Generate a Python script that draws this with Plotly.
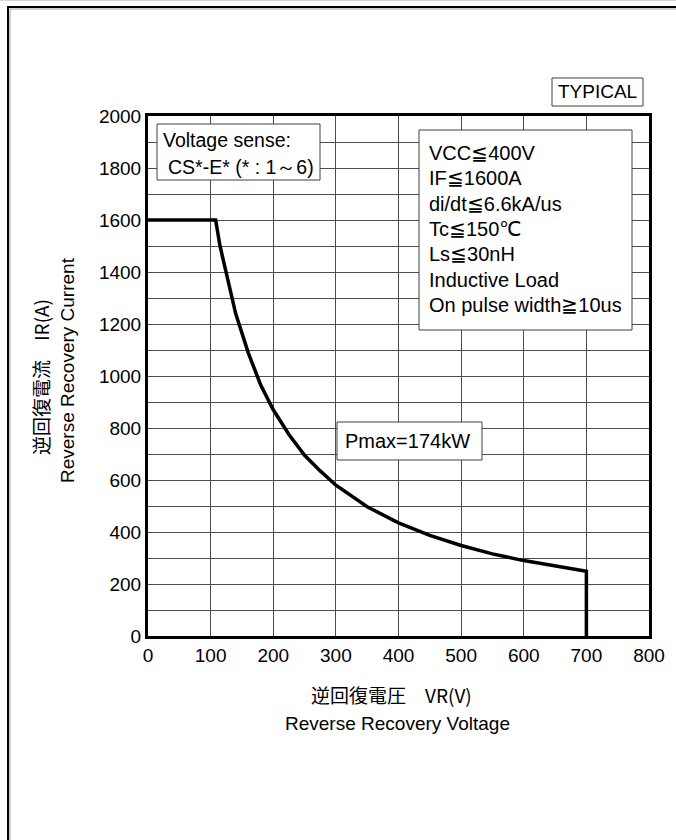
import plotly.graph_objects as go

# reverse recovery SOA curve
VR = [0, 108, 115, 125, 140, 160, 180, 200, 225, 250, 275, 300, 350,
      400, 450, 500, 550, 600, 650, 700, 700]
IR = [1600, 1600, 1500, 1390, 1240, 1090, 965, 870, 775, 695, 635, 580, 497,
      435, 387, 348, 316, 290, 268, 249, 0]

X_TICKS = list(range(0, 801, 100))
Y_GRID = list(range(0, 2001, 100))
Y_LABELS = [str(v) if v % 200 == 0 else "" for v in Y_GRID]

COND_LINES = ["VCC≦400V", "IF≦1600A", "di/dt≦6.6kA/us", "Tc≦150℃",
              "Ls≦30nH", "Inductive Load", "On pulse width≧10us"]

W, H = 676, 840
L, T = 148, 116
R, B = W - 649, H - 636
PW, PH = W - L - R, H - T - B

FONT = "Liberation Sans, Arial, sans-serif"
JFONT = "Noto Sans CJK JP, sans-serif"
GRID = "#4d4d4d"


# positions below are page pixels (as measured on the reference)
def xp(px):
    return (px - L) / PW


def yp(py):
    return (H - B - py) / PH


fig = go.Figure()
fig.add_trace(go.Scatter(x=VR, y=IR, mode="lines",
                         line=dict(color="black", width=3.5),
                         showlegend=False, hoverinfo="skip"))

shapes = []
annots = []


def box(x0, y0, x1, y1, color="#404040"):
    shapes.append(dict(type="rect", xref="paper", yref="paper",
                       x0=xp(x0), x1=xp(x1), y0=yp(y1), y1=yp(y0),
                       line=dict(color=color, width=1), fillcolor="white",
                       layer="above"))


def text(s, x, y, size=20, anchor="left", font=FONT, angle=0):
    annots.append(dict(text=s, xref="paper", yref="paper", x=xp(x), y=yp(y),
                       xanchor=anchor, yanchor="middle", showarrow=False,
                       textangle=angle,
                       font=dict(family=font, size=size, color="black")))


# outer frame (runs off the right/bottom of the page)
shapes.append(dict(type="line", xref="paper", yref="paper",
                   x0=xp(0), x1=xp(W), y0=yp(0.5), y1=yp(0.5),
                   line=dict(color="#d4d4d4", width=1)))
shapes.append(dict(type="rect", xref="paper", yref="paper",
                   x0=xp(8), x1=xp(W + 40), y0=yp(H + 40), y1=yp(7),
                   line=dict(color="black", width=2)))
shapes.append(dict(type="rect", xref="paper", yref="paper",
                   x0=xp(10), x1=xp(W + 40), y0=yp(H + 40), y1=yp(9),
                   line=dict(color="#a0a0a0", width=1)))

# TYPICAL
box(552, 78, 643, 106)
text("TYPICAL", 597.5, 92, anchor="center", size=19)

# voltage sense box
box(157, 124, 320, 180)
text("Voltage sense:", 161, 140, size=19.5)
text("CS*-E* (* : 1～6)", 166, 167, size=19.5)

# condition box
box(419, 130, 632, 330)
for i, s in enumerate(COND_LINES):
    text(s, 427, 153 + i * 25.3)

# Pmax box
box(337, 422, 482, 460)
text("Pmax=174kW", 343, 441)

# axis titles
text("逆回復電圧　VR(V)", 391, 694, anchor="center", font=JFONT, size=19)
text("Reverse Recovery Voltage", 397, 723, anchor="center", size=19)
text("逆回復電流　IR(A)", 40, 377, anchor="center", font=JFONT, size=19, angle=-90)
text("Reverse Recovery Current", 67, 370, anchor="center", size=19, angle=-90)

fig.update_layout(
    width=W, height=H,
    margin=dict(l=L, r=R, t=T, b=B, autoexpand=False),
    paper_bgcolor="white", plot_bgcolor="white",
    font=dict(family=FONT, size=19, color="black"),
    shapes=shapes, annotations=annots,
)
fig.update_xaxes(range=[0, 800], tickvals=X_TICKS, showgrid=True,
                 gridcolor=GRID, gridwidth=1, zeroline=False,
                 showline=True, linecolor="black", linewidth=3, mirror=True,
                 ticks="", ticklen=0, tickfont=dict(size=19))
fig.update_yaxes(range=[0, 2000], tickvals=Y_GRID, ticktext=Y_LABELS,
                 showgrid=True, gridcolor=GRID, gridwidth=1, zeroline=False,
                 showline=True, linecolor="black", linewidth=3, mirror=True,
                 ticks="", ticklen=0, tickfont=dict(size=19))

# drop the browser's default 8px body margin so the figure sits at 0,0
fig.write_html("out.html", config={"displayModeBar": False},
               post_script="document.body.style.margin='0';"
                           "document.body.style.overflow='hidden';")
